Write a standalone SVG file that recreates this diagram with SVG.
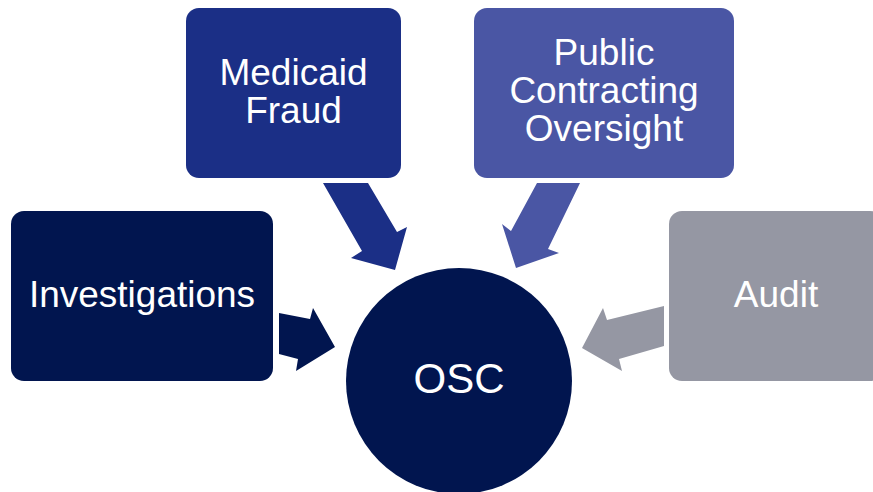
<svg xmlns="http://www.w3.org/2000/svg" width="873" height="492" viewBox="0 0 873 492">
<style>
  .lbl { font-family: "Liberation Sans", Arial, sans-serif; font-size: 37px; fill: #ffffff; text-anchor: middle; }
  .osc { font-size: 42px; }
  .navy { fill: #01154f; }
  .blue { fill: #1b2f86; }
  .purple { fill: #4a56a4; }
  .grey { fill: #9597a3; }
</style>
<rect width="873" height="492" fill="#ffffff"/>
<g id="connectors">
  <polygon class="navy" points="279,313 310,319 313,308 335,347 296,371 298,359 279,354"/>
  <polygon class="blue" points="323,183 368,183 397,232 407,227 395,270 351,258 362,251"/>
  <polygon class="purple" points="537,183 580,183 548,249 559,253 516,268 502,224 511,231"/>
  <polygon class="grey" points="664,306 607,320 603,308 582,348 622,371 619,359 664,346"/>
</g>
<g id="investigations">
  <rect class="navy" x="11" y="211" width="262" height="170" rx="13"/>
  <text class="lbl" x="142" y="307">Investigations</text>
</g>
<g id="medicaid-fraud">
  <rect class="blue" x="186" y="8" width="215" height="170" rx="13"/>
  <text class="lbl" x="293.5" y="85">Medicaid</text>
  <text class="lbl" x="293.5" y="123">Fraud</text>
</g>
<g id="public-contracting">
  <rect class="purple" x="474" y="8" width="260" height="170" rx="13"/>
  <text class="lbl" x="604" y="65">Public</text>
  <text class="lbl" x="604" y="103">Contracting</text>
  <text class="lbl" x="604" y="141">Oversight</text>
</g>
<g id="audit">
  <rect class="grey" x="669" y="211" width="214" height="170" rx="13"/>
  <text class="lbl" x="776" y="307">Audit</text>
</g>
<g id="osc">
  <circle class="navy" cx="459" cy="381" r="113"/>
  <text class="lbl osc" x="459" y="393">OSC</text>
</g>
</svg>
